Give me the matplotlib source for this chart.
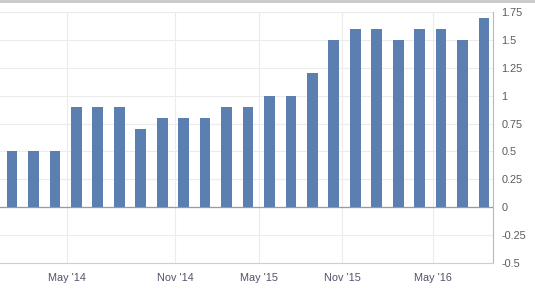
import matplotlib
matplotlib.use("Agg")
import matplotlib.pyplot as plt
from matplotlib.lines import Line2D

# bar values, evenly spaced
values = [0.5, 0.5, 0.5, 0.9, 0.9, 0.9, 0.7, 0.8, 0.8, 0.8, 0.9, 0.9,
          1.0, 1.0, 1.2, 1.5, 1.6, 1.6, 1.5, 1.6, 1.6, 1.5, 1.7]
# date labels sit between bars (positions in bar units)
tick_pos = [2.56, 7.62, 11.52, 15.38, 19.62]
tick_labels = ["May '14", "Nov '14", "May '15", "Nov '15", "May '16"]
y_ticks = [-0.5, -0.25, 0, 0.25, 0.5, 0.75, 1, 1.25, 1.5, 1.75]
y_labels = ["-0.5", "-0.25", "0", "0.25", "0.5", "0.75", "1", "1.25", "1.5", "1.75"]

plt.rcParams["font.family"] = ["Liberation Sans", "DejaVu Sans"]

fig = plt.figure(figsize=(5.35, 2.92), dpi=100)
ax = fig.add_axes([0.0, 0.0993, 0.9215, 0.8596])

ax.bar(range(len(values)), values, width=0.5, color="#5b7fb0", zorder=3)

ax.set_xlim(-0.56, 22.42)
ax.set_ylim(-0.5, 1.75)

ax.set_yticks(y_ticks)
ax.set_yticklabels(y_labels)
ax.yaxis.tick_right()
ax.set_xticks(tick_pos)
ax.set_xticklabels(tick_labels)

ax.tick_params(axis="x", length=0, pad=7, labelsize=7.8, labelcolor="#52526a")
ax.tick_params(axis="y", length=0, pad=6, labelsize=7.8, labelcolor="#5a5a5a")

ax.grid(True, color="#ececec", linewidth=0.8, zorder=0)
ax.axhline(0, color="#9a9a9a", linewidth=0.9, zorder=2)

for s in ["left", "top"]:
    ax.spines[s].set_visible(False)
ax.spines["right"].set_color("#b8b8b8")
ax.spines["bottom"].set_color("#cfcfcf")

# thin grey strip at the very top of the image
fig.add_artist(Line2D([0, 1], [0.996, 0.996], transform=fig.transFigure,
                      color="#c8c8c8", linewidth=2))

fig.savefig("out.png", dpi=100)
